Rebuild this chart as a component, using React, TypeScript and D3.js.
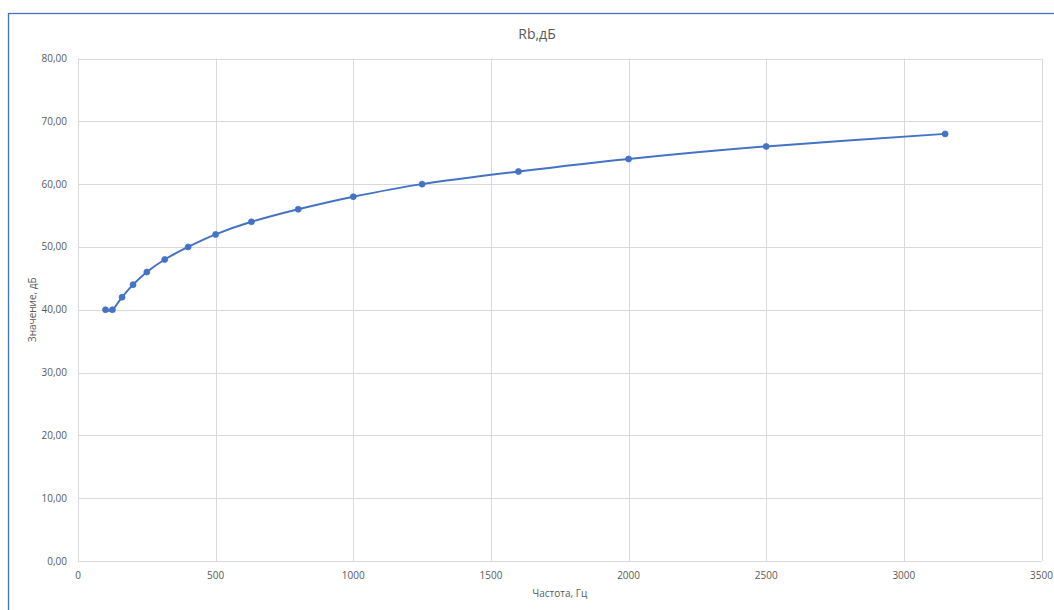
import { useEffect, useRef } from "react";
import * as d3 from "d3";

// Rb, dB vs frequency (1/3-octave bands)
const FREQS = [100, 125, 160, 200, 250, 315, 400, 500, 630, 800, 1000, 1250, 1600, 2000, 2500, 3150];
const RB = [40, 40, 42, 44, 46, 48, 50, 52, 54, 56, 58, 60, 62, 64, 66, 68];
const X_TICKS = [0, 500, 1000, 1500, 2000, 2500, 3000, 3500];
const Y_TICKS = [0, 10, 20, 30, 40, 50, 60, 70, 80];

const TITLE = "Rb,дБ";
const X_TITLE = "Частота, Гц";
const Y_TITLE = "Значение, дБ";

const FONT = "'Open Sans', 'Noto Sans', sans-serif";
const TEXT = "#595959";
const GRID = "#d9d9d9";
const LINE = "#4472c4";

export default function App() {
  const ref = useRef<SVGSVGElement>(null);

  useEffect(() => {
    if (!ref.current) return;
    document.body.style.margin = "0";
    document.body.style.overflow = "hidden";
    const w = 1054;
    const h = 610;
    const m = { top: 58.5, right: 12.5, bottom: 49, left: 78 };

    const svg = d3.select(ref.current);
    svg.selectAll("*").remove();
    svg.attr("width", w).attr("height", h).style("display", "block");

    // chart frame
    svg
      .append("rect")
      .attr("x", 8.5)
      .attr("y", 13.5)
      .attr("width", w + 10)
      .attr("height", h + 10)
      .attr("fill", "#fff")
      .attr("stroke", LINE)
      .attr("stroke-width", 1.3);

    const x = d3.scaleLinear().domain([0, 3500]).range([m.left, w - m.right]);
    const y = d3.scaleLinear().domain([0, 80]).range([h - m.bottom, m.top]);

    const grid = svg.append("g").attr("stroke", GRID).attr("stroke-width", 1);
    grid
      .selectAll("line.h")
      .data(Y_TICKS)
      .join("line")
      .attr("class", "h")
      .attr("x1", x(0))
      .attr("x2", x(3500))
      .attr("y1", (d) => Math.round(y(d)) + 0.5)
      .attr("y2", (d) => Math.round(y(d)) + 0.5);
    grid
      .selectAll("line.v")
      .data(X_TICKS)
      .join("line")
      .attr("class", "v")
      .attr("y1", y(0))
      .attr("y2", y(80))
      .attr("x1", (d) => Math.round(x(d)) + 0.5)
      .attr("x2", (d) => Math.round(x(d)) + 0.5);

    svg
      .append("g")
      .selectAll("text")
      .data(Y_TICKS)
      .join("text")
      .attr("x", x(0) - 11)
      .attr("y", (d) => y(d) + 3.5)
      .attr("text-anchor", "end")
      .attr("font-family", FONT)
      .attr("font-size", 10)
      .attr("fill", TEXT)
      .text((d) => d.toFixed(2).replace(".", ","));

    svg
      .append("g")
      .selectAll("text")
      .data(X_TICKS)
      .join("text")
      .attr("x", (d) => x(d))
      .attr("y", y(0) + 18)
      .attr("text-anchor", "middle")
      .attr("font-family", FONT)
      .attr("font-size", 10)
      .attr("fill", TEXT)
      .text((d) => String(d));

    const pts = FREQS.map((f, i) => [f, RB[i]] as [number, number]);
    const line = d3
      .line<[number, number]>()
      .x((d) => x(d[0]))
      .y((d) => y(d[1]))
      .curve(d3.curveCardinal.tension(0));

    svg
      .append("path")
      .datum(pts)
      .attr("d", line)
      .attr("fill", "none")
      .attr("stroke", LINE)
      .attr("stroke-width", 2)
      .attr("stroke-linejoin", "round");

    svg
      .append("g")
      .selectAll("circle")
      .data(pts)
      .join("circle")
      .attr("cx", (d) => x(d[0]))
      .attr("cy", (d) => y(d[1]))
      .attr("r", 3)
      .attr("fill", LINE)
      .attr("stroke", LINE)
      .attr("stroke-width", 0.75);

    svg
      .append("text")
      .attr("x", 537)
      .attr("y", 39)
      .attr("text-anchor", "middle")
      .attr("font-family", FONT)
      .attr("font-size", 14)
      .attr("fill", TEXT)
      .text(TITLE);

    svg
      .append("text")
      .attr("x", (x(0) + x(3500)) / 2)
      .attr("y", h - 13)
      .attr("text-anchor", "middle")
      .attr("font-family", FONT)
      .attr("font-size", 10)
      .attr("fill", TEXT)
      .text(X_TITLE);

    svg
      .append("text")
      .attr("transform", `translate(36,${(y(0) + y(80)) / 2}) rotate(-90)`)
      .attr("text-anchor", "middle")
      .attr("font-family", FONT)
      .attr("font-size", 10)
      .attr("fill", TEXT)
      .text(Y_TITLE);
  }, []);

  return <svg ref={ref} />;
}
